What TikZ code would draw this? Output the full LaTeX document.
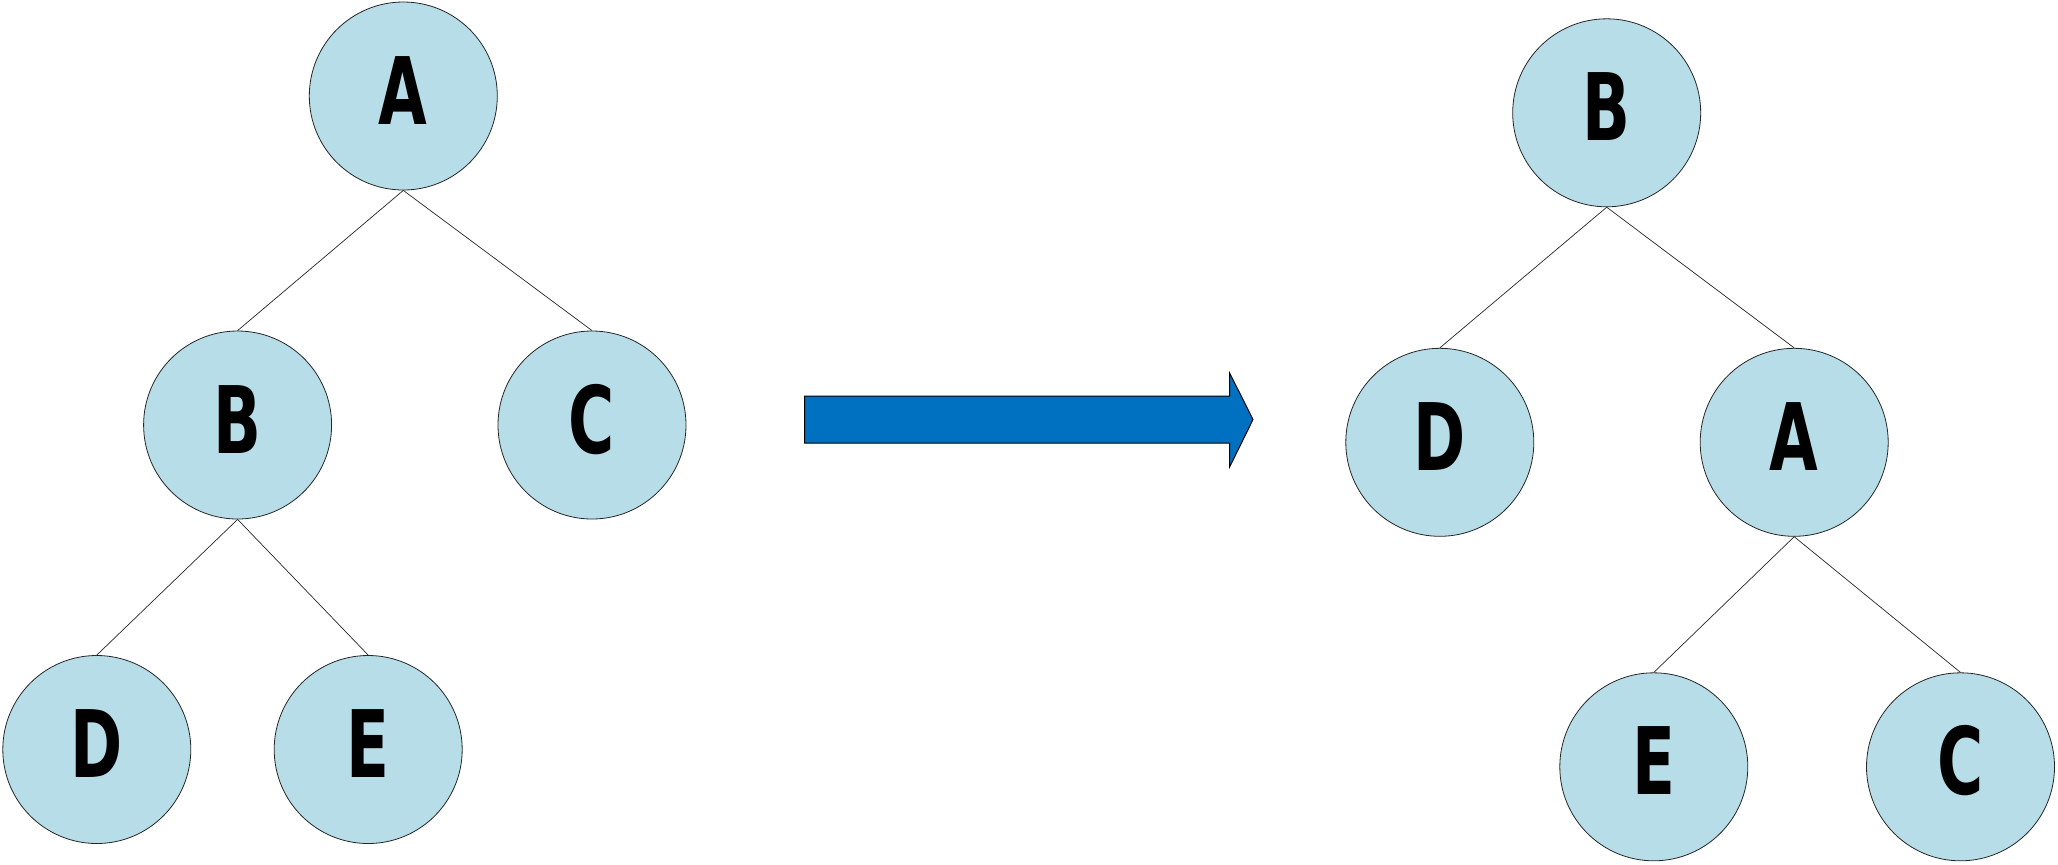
\documentclass[tikz,border=0pt]{standalone}
\usepackage{fontspec}
\newfontfamily\labfont[FakeStretch=0.75]{DejaVu Sans Condensed Bold}
\definecolor{nodefill}{HTML}{B7DDE8}
\definecolor{arrowblue}{HTML}{0070C0}
\tikzset{
  treenode/.style={circle, draw=black!85, line width=0.4pt, fill=nodefill, minimum size=94pt, inner sep=0pt},
  lab/.style={anchor=base, inner sep=0pt, font=\labfont\fontsize{46.6}{50}\selectfont},
  edge/.style={draw=black!85, line width=0.35pt}
}
\begin{document}
\begin{tikzpicture}[x=0.5pt, y=-0.5pt]
\useasboundingbox (0,0) rectangle (2058,864);
% left tree
\node[treenode] (lA) at (403.3,96) {};
\node[treenode] (lB) at (237.6,425) {};
\node[treenode] (lC) at (592,425) {};
\node[treenode] (lD) at (96.8,749.5) {};
\node[treenode] (lE) at (368.2,749.5) {};
% right tree
\node[treenode] (rB) at (1606.7,112.8) {};
\node[treenode] (rD) at (1439.8,442.3) {};
\node[treenode] (rA) at (1794.2,442.3) {};
\node[treenode] (rE) at (1653.8,766.8) {};
\node[treenode] (rC) at (1960.5,766.8) {};
% labels
\foreach \n/\t in {lA/A,lB/B,lC/C,lD/D,lE/E,rB/B,rD/D,rA/A,rE/E,rC/C}{
  \node[lab] (t\n) at ([yshift=-14pt]\n.center) {\t};
}
% edges
\draw[edge] (lA.south) -- (lB.north);
\draw[edge] (lA.south) -- (lC.north);
\draw[edge] (lB.south) -- (lD.north);
\draw[edge] (lB.south) -- (lE.north);
\draw[edge] (rB.south) -- (rD.north);
\draw[edge] (rB.south) -- (rA.north);
\draw[edge] (rA.south) -- (rE.north);
\draw[edge] (rA.south) -- (rC.north);
% block arrow
\coordinate (arrL) at (804.5,419.5);
\coordinate (arrT) at (1253,419.5);
\draw[fill=arrowblue, draw=black, line width=0.5pt]
  (arrL |- 0,396) -- (1229.5,396) -- (1229.5,372.7) -- (arrT)
  -- (1229.5,467.3) -- (1229.5,443) -- (arrL |- 0,443) -- cycle;
\end{tikzpicture}
\end{document}
